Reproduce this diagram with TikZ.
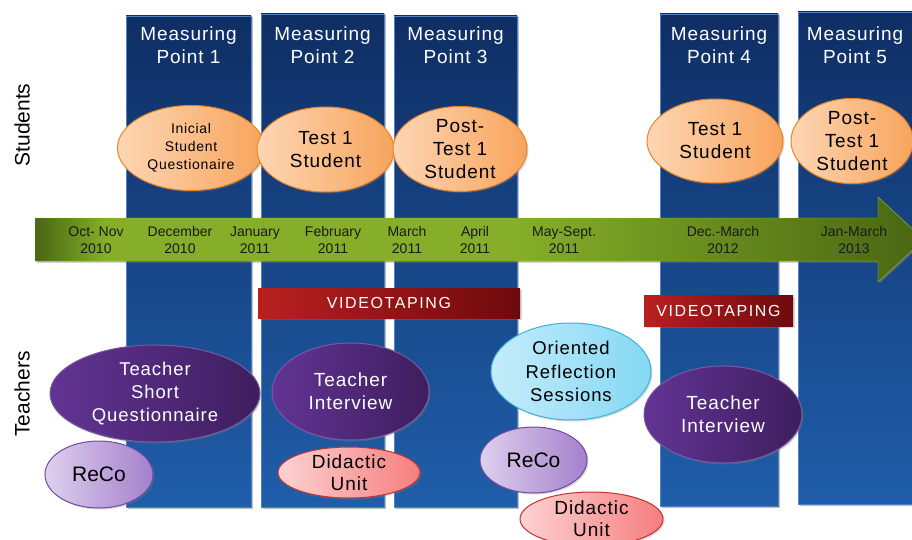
\documentclass[tikz,border=0pt]{standalone}
\usepackage{fontspec}
\setmainfont{Liberation Sans}
\newfontfamily\spc[LetterSpace=5]{Liberation Sans}
\newfontfamily\wide[LetterSpace=10]{Liberation Sans}
\usepackage{xcolor}
\usetikzlibrary{shapes.geometric,shadows}

\definecolor{coltop}{RGB}{15,46,100}
\definecolor{colbot}{RGB}{32,94,170}
\definecolor{colline}{RGB}{80,130,200}
\definecolor{gdark}{RGB}{72,102,18}
\definecolor{glight}{RGB}{134,174,40}
\definecolor{gedge}{RGB}{150,196,60}
\definecolor{vtleft}{RGB}{185,32,32}
\definecolor{vtright}{RGB}{110,10,12}
\definecolor{orlight}{RGB}{253,214,180}
\definecolor{ordark}{RGB}{248,164,92}
\definecolor{orline}{RGB}{232,132,40}
\definecolor{pulight}{RGB}{98,52,148}
\definecolor{pudark}{RGB}{62,30,94}
\definecolor{puline}{RGB}{120,90,160}
\definecolor{lvlight}{RGB}{222,208,238}
\definecolor{lvdark}{RGB}{164,128,204}
\definecolor{lvline}{RGB}{112,74,160}
\definecolor{pklight}{RGB}{253,210,210}
\definecolor{pkdark}{RGB}{246,126,126}
\definecolor{pkline}{RGB}{196,50,50}
\definecolor{cylight}{RGB}{196,236,250}
\definecolor{cydark}{RGB}{132,216,244}
\definecolor{cyline}{RGB}{64,176,214}
\pgfdeclarehorizontalshading{timeshade}{100bp}{color(0bp)=(gdark); color(25bp)=(gdark); color(29bp)=(glight); color(52bp)=(glight); color(75bp)=(gdark); color(100bp)=(gdark)}

\begin{document}
\begin{tikzpicture}[x=1pt,y=-1pt,
  shade/.style={drop shadow={shadow xshift=1.5pt,shadow yshift=-1.5pt,opacity=.3}},
  coltitle/.style={text=white,align=center,font=\spc\fontsize{19}{23}\selectfont},
  month/.style={align=center,text=black!90,font=\fontsize{14}{17}\selectfont},
  vtbar/.style={shade,inner sep=0pt,left color=vtleft,right color=vtright,text=white,font=\wide\fontsize{16}{19}\selectfont},
  bubble/.style={ellipse,shade,inner sep=-10pt,align=center,line width=1pt,font=\spc\fontsize{19}{23}\selectfont},
  studbubble/.style={bubble,left color=orlight,right color=ordark,draw=orline},
  teachbubble/.style={bubble,left color=pulight,right color=pudark,draw=puline,text=white},
  recobubble/.style={bubble,left color=lvlight,right color=lvdark,draw=lvline,font=\fontsize{21}{25}\selectfont},
  unitbubble/.style={bubble,left color=pklight,right color=pkdark,draw=pkline,font=\spc\fontsize{19}{22}\selectfont},
  reflbubble/.style={bubble,left color=cylight,right color=cydark,draw=cyline,font=\spc\fontsize{18.5}{23.5}\selectfont}]
  \useasboundingbox (0,0) rectangle (912,540);
  \clip (0,0) rectangle (912,540);
  % measuring points
  \foreach \xa/\xb/\yt/\yb [count=\i] in {126/251/16/507,261/384/14/507,394/517/16/507,660/778/14/506,798/912/12/504} {
    \shade[shade,top color=coltop,bottom color=colbot,draw=colline,thin] (\xa,\yt) rectangle (\xb,\yb);
    \node[coltitle] (mp\i) at ({(\xa+\xb)/2},45) {Measuring\\Point \i};
  }
  % time line
  \shade[shade,shading=timeshade,draw=gedge] (35,218) -- (878,218) -- (878,197) -- (924,239.5) -- (878,282) -- (878,261) -- (35,261) -- cycle;
  \foreach \x/\txt [count=\i] in {96/{Oct- Nov\\2010},180/{December\\2010},255/{January\\2011},333/{February\\2011},407/{March\\2011},475/{April\\2011},564/{May-Sept.\\2011},723/{Dec.-March\\2012},854/{Jan-March\\2013}}
    \node[month] (m\i) at (\x,240) {\txt};
  % videotaping
  \node[vtbar,minimum width=262pt,minimum height=30pt] (vt1) at (389,303) {VIDEOTAPING};
  \node[vtbar,minimum width=149pt,minimum height=31pt] (vt2) at (718.5,310.5) {VIDEOTAPING};
  % students
  \node[rotate=90,font=\fontsize{21}{25}\selectfont] (studlbl) at (22,125) {Students};
  \node[studbubble,minimum width=147pt,minimum height=85pt,font=\spc\fontsize{14}{18}\selectfont] (st1) at (191,148) {Inicial\\Student\\Questionaire};
  \node[studbubble,minimum width=137pt,minimum height=85pt] (st2) at (325.5,149.5) {Test 1\\Student};
  \node[studbubble,minimum width=134pt,minimum height=85pt] (st3) at (460,149) {Post-\\Test 1\\Student};
  \node[studbubble,minimum width=136pt,minimum height=84pt] (st4) at (715,141) {Test 1\\Student};
  \node[studbubble,minimum width=122pt,minimum height=85pt] (st5) at (852,141) {Post-\\Test 1\\Student};
  % teachers
  \node[rotate=90,font=\fontsize{21}{25}\selectfont] (teachlbl) at (22,394) {Teachers};
  \node[teachbubble,minimum width=210pt,minimum height=97pt,font=\spc\fontsize{18.5}{23}\selectfont] (tq) at (155,393.5) {Teacher\\Short\\Questionnaire};
  \node[teachbubble,minimum width=157pt,minimum height=97pt] (ti1) at (350.5,391.5) {Teacher\\Interview};
  \node[teachbubble,minimum width=158pt,minimum height=97pt] (ti2) at (723,414.5) {Teacher\\Interview};
  \node[reflbubble,minimum width=160pt,minimum height=97pt] (ors) at (571,371.5) {Oriented\\Reflection\\Sessions};
  \node[recobubble,minimum width=108pt,minimum height=67pt] (rc1) at (99,474.5) {ReCo};
  \node[recobubble,minimum width=107pt,minimum height=66pt] (rc2) at (533.5,460) {ReCo};
  \node[unitbubble,minimum width=142pt,minimum height=51pt] (du1) at (349,472.5) {Didactic\\Unit};
  \node[unitbubble,minimum width=143pt,minimum height=54pt] (du2) at (591.5,519) {Didactic\\Unit};
\end{tikzpicture}
\end{document}
